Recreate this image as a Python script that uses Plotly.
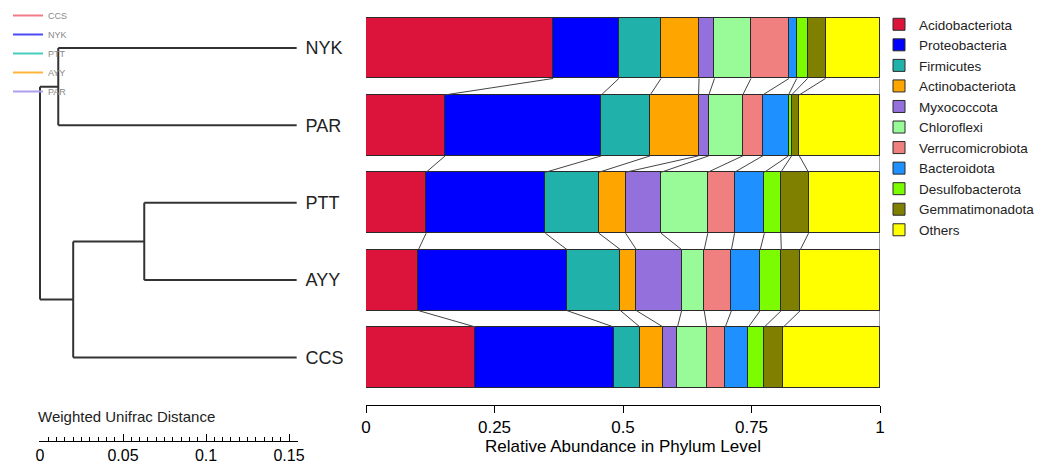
import numpy as np
import plotly.graph_objects as go

# ---------------- data ----------------
samples = ["NYK", "PAR", "PTT", "AYY", "CCS"]
phyla = ["Acidobacteriota", "Proteobacteria", "Firmicutes", "Actinobacteriota",
         "Myxococcota", "Chloroflexi", "Verrucomicrobiota", "Bacteroidota",
         "Desulfobacterota", "Gemmatimonadota", "Others"]
phylum_colors = ["#DC143C", "#0000FF", "#20B2AA", "#FFA500", "#9370DB", "#98FB98",
                 "#F08080", "#1E90FF", "#7CFC00", "#808000", "#FFFF00"]

# relative abundance per phylum, in sample order NYK, PAR, PTT, AYY, CCS
acidobacteriota   = [0.364, 0.154, 0.117, 0.102, 0.213]
proteobacteria    = [0.128, 0.304, 0.232, 0.289, 0.269]
firmicutes        = [0.082, 0.095, 0.104, 0.104, 0.051]
actinobacteriota  = [0.074, 0.094, 0.052, 0.031, 0.045]
myxococcota       = [0.030, 0.020, 0.069, 0.088, 0.028]
chloroflexi       = [0.071, 0.066, 0.091, 0.044, 0.057]
verrucomicrobiota = [0.074, 0.039, 0.052, 0.053, 0.036]
bacteroidota      = [0.015, 0.050, 0.058, 0.056, 0.045]
desulfobacterota  = [0.021, 0.006, 0.032, 0.041, 0.031]
gemmatimonadota   = [0.035, 0.015, 0.054, 0.037, 0.037]
others            = [0.106, 0.157, 0.139, 0.155, 0.188]
values = [acidobacteriota, proteobacteria, firmicutes, actinobacteriota, myxococcota,
          chloroflexi, verrucomicrobiota, bacteroidota, desulfobacterota,
          gemmatimonadota, others]

# dendrogram (weighted UniFrac), depth measured from the root
node_children = {"root": ["n1", "n3"], "n1": ["NYK", "PAR"],
                 "n3": ["n2", "CCS"], "n2": ["PTT", "AYY"]}
node_depth = {"root": 0.0, "n1": 0.011, "n3": 0.020, "n2": 0.0628}
leaf_depth = 0.1546

group_names = ["CCS", "NYK", "PTT", "AYY", "PAR"]
group_colors = ["#F27A86", "#4A4AF5", "#45CDBE", "#FFB43A", "#AE9FEA"]

# ---------------- figure ----------------
# page body has an 8px margin: figure is placed at (8, 8) in the window
OFF = 8
W, H = 1047 - OFF, 464 - OFF
def px(x):
    return (x - OFF) / W
def py(y):
    return 1 - (y - OFF) / H

fig = go.Figure()

bar_width = 0.788
for name, col, vals in zip(phyla, phylum_colors, values):
    fig.add_trace(go.Bar(
        x=vals, y=samples, orientation="h", name=name, width=bar_width,
        marker=dict(color=col, line=dict(color="#2a2a2a", width=1)),
        xaxis="x", yaxis="y", legend="legend", hoverinfo="x+name"))

# connecting lines between consecutive bars
mat = np.array(values)               # phyla x samples
cum = np.cumsum(mat, axis=0)          # boundaries
cum = cum / cum[-1]
half = bar_width / 2
lx, ly = [], []
for i in range(len(samples) - 1):
    for k in range(cum.shape[0]):
        lx += [cum[k, i], cum[k, i + 1], None]
        ly += [i + half, i + 1 - half, None]
fig.add_trace(go.Scatter(x=lx, y=ly, mode="lines", xaxis="x", yaxis="y3",
                         line=dict(color="#444444", width=1),
                         showlegend=False, hoverinfo="skip"))

# dendrogram
pos = {s: i for i, s in enumerate(samples)}
def node_y(n):
    if n in pos:
        return pos[n]
    return float(np.mean([node_y(c) for c in node_children[n]]))

def depth(n):
    return leaf_depth if n in pos else node_depth[n]

dx, dy = [], []
for n, ch in node_children.items():
    ys = [node_y(c) for c in ch]
    dx += [depth(n), depth(n), None]
    dy += [min(ys), max(ys), None]
    for c in ch:
        dx += [depth(n), depth(c), None]
        dy += [node_y(c), node_y(c), None]
fig.add_trace(go.Scatter(x=dx, y=dy, mode="lines", xaxis="x2", yaxis="y2",
                         line=dict(color="#333333", width=2),
                         showlegend=False, hoverinfo="skip"))

# group legend (top-left)
for g, c in zip(group_names, group_colors):
    fig.add_trace(go.Scatter(x=[None], y=[None], mode="lines", name=g,
                             line=dict(color=c, width=2), xaxis="x2", yaxis="y2",
                             legend="legend2"))

y_rng = [4.614, -0.491]
ydom = [py(405), py(10)]

fig.update_layout(
    width=W, height=H, autosize=False,
    margin=dict(l=0, r=0, t=0, b=0, autoexpand=False),
    paper_bgcolor="white", plot_bgcolor="white",
    barmode="stack", bargap=0,
    font=dict(family="Liberation Sans, Arial, sans-serif", color="black"),
    xaxis=dict(domain=[px(366), px(880)], range=[0, 1], anchor="y",
               showline=True, linecolor="black", linewidth=1,
               ticks="outside", ticklen=7, tickcolor="black",
               tickvals=[0, 0.25, 0.5, 0.75, 1], ticktext=["0", "0.25", "0.5", "0.75", "1"],
               tickfont=dict(size=17), showgrid=False, zeroline=False,
               title=dict(text="Relative Abundance in Phylum Level",
                          font=dict(size=17), standoff=0)),
    yaxis=dict(domain=ydom, range=y_rng, type="category", categoryarray=samples,
               anchor="x", showticklabels=False, ticks="", showline=False,
               showgrid=False, zeroline=False),
    yaxis3=dict(domain=ydom, range=y_rng, anchor="x", overlaying="y",
                visible=False),
    xaxis2=dict(domain=[px(39), px(297.5)], range=[-0.0006, leaf_depth + 0.0005],
                anchor="free", position=py(440.7),
                showline=True, linecolor="black", linewidth=1,
                ticks="inside", ticklen=7, tickcolor="black",
                tick0=0, dtick=0.05, tickfont=dict(size=16),
                minor=dict(dtick=0.005, ticks="inside", ticklen=4, tickcolor="black"),
                showgrid=False, zeroline=False),
    yaxis2=dict(domain=ydom, range=y_rng, anchor="x2", side="right",
                tickvals=list(range(len(samples))), ticktext=samples,
                ticks="", ticklen=0, ticklabelstandoff=7,
                tickfont=dict(size=18, color="#222222"),
                showline=False, showgrid=False, zeroline=False),
    legend=dict(x=px(879), y=py(9), xanchor="left", yanchor="top",
                font=dict(size=13.5, color="#222222"), traceorder="normal",
                bgcolor="rgba(0,0,0,0)", itemclick=False, itemdoubleclick=False),
    legend2=dict(x=0.0, y=py(1), xanchor="left", yanchor="top",
                 font=dict(size=9, color="#888888"), traceorder="normal",
                 bgcolor="rgba(0,0,0,0)", itemclick=False, itemdoubleclick=False),
    annotations=[dict(text="Weighted Unifrac Distance", xref="paper", yref="paper",
                      x=px(36), y=py(416.7), xanchor="left", yanchor="middle",
                      showarrow=False, font=dict(size=15, color="#222222"))],
)

fig.write_html("out.html")
